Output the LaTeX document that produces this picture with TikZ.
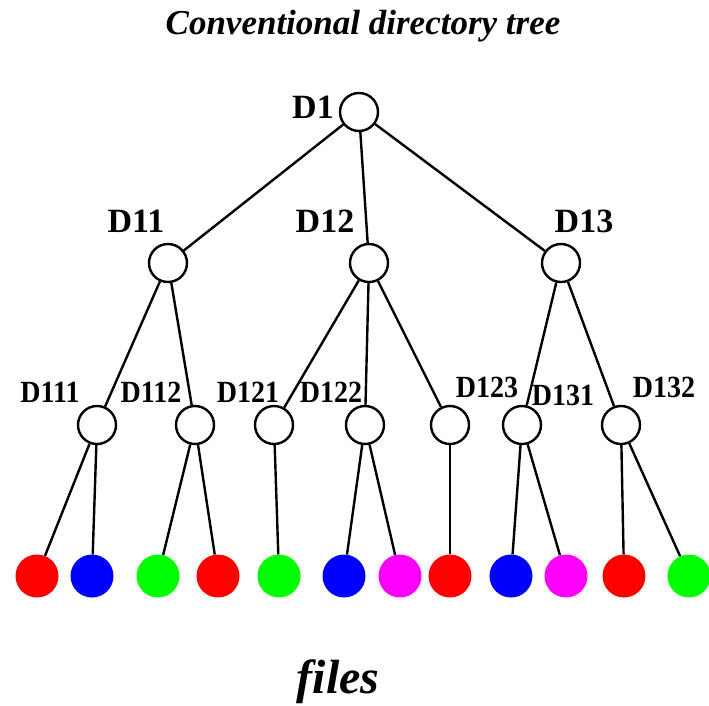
\documentclass[tikz,border=0pt]{standalone}
\usepackage{fontspec}
\setmainfont{Liberation Serif}
\definecolor{fred}{RGB}{255,0,0}
\definecolor{fblue}{RGB}{0,0,255}
\definecolor{fgreen}{RGB}{0,255,0}
\definecolor{fmagenta}{RGB}{255,0,255}
\begin{document}
\begin{tikzpicture}[x=1pt,y=-1pt,
  dir/.style={circle,draw=black,line width=2.4pt,fill=white,minimum size=38pt,inner sep=0pt},
  file/.style={circle,minimum size=43pt,inner sep=0pt},
  lbl/.style={font=\fontsize{34}{36}\selectfont\bfseries,inner sep=0pt},
  slbl/.style={font=\fontsize{28}{30}\selectfont\bfseries,inner sep=0pt,yscale=1.1},
  link/.style={line width=2.4pt}]
\useasboundingbox (0,0) rectangle (709,705);
% title
\node[font=\fontsize{35}{40}\selectfont\bfseries\itshape,inner sep=0pt] (title) at (363,26) {Conventional directory tree};
% directories
\node[dir] (D1) at (359,112) {};
\node[dir] (D11) at (168,263) {};
\node[dir] (D12) at (369,263) {};
\node[dir] (D13) at (561,263) {};
\node[dir] (D111) at (97,425) {};
\node[dir] (D112) at (195,425) {};
\node[dir] (D121) at (274,425) {};
\node[dir] (D122) at (365,425) {};
\node[dir] (D123) at (450,425) {};
\node[dir] (D131) at (522,425) {};
\node[dir] (D132) at (621,425) {};
% files
\node[file,fill=fred] (f1) at (37,576) {};
\node[file,fill=fblue] (f2) at (92,576) {};
\node[file,fill=fgreen] (f3) at (158,576) {};
\node[file,fill=fred] (f4) at (218,576) {};
\node[file,fill=fgreen] (f5) at (279,576) {};
\node[file,fill=fblue] (f6) at (344,576) {};
\node[file,fill=fmagenta] (f7) at (400,576) {};
\node[file,fill=fred] (f8) at (450,576) {};
\node[file,fill=fblue] (f9) at (511,576) {};
\node[file,fill=fmagenta] (f10) at (566,576) {};
\node[file,fill=fred] (f11) at (624,576) {};
\node[file,fill=fgreen] (f12) at (689,576) {};
% links
\draw[link] (D1) -- (D11);
\draw[link] (D1) -- (D12);
\draw[link] (D1) -- (D13);
\draw[link] (D11) -- (D111);
\draw[link] (D11) -- (D112);
\draw[link] (D12) -- (D121);
\draw[link] (D12) -- (D122);
\draw[link] (D12) -- (D123);
\draw[link] (D13) -- (D131);
\draw[link] (D13) -- (D132);
\draw[link] (D111) -- (f1);
\draw[link] (D111) -- (f2);
\draw[link] (D112) -- (f3);
\draw[link] (D112) -- (f4);
\draw[link] (D121) -- (f5);
\draw[link] (D122) -- (f6);
\draw[link] (D122) -- (f7);
\draw[link] (D123) -- (f8);
\draw[link] (D131) -- (f9);
\draw[link] (D131) -- (f10);
\draw[link] (D132) -- (f11);
\draw[link] (D132) -- (f12);
% labels
\node[lbl] (lD1) at (313,107) {D1};
\node[lbl] (lD11) at (136,221) {D11};
\node[lbl] (lD12) at (325,221) {D12};
\node[lbl] (lD13) at (584,221) {D13};
\node[slbl] (lD111) at (50,392) {D111};
\node[slbl] (lD112) at (151,392) {D112};
\node[slbl] (lD121) at (248,392) {D121};
\node[slbl] (lD122) at (331,392) {D122};
\node[slbl] (lD123) at (487,387) {D123};
\node[slbl] (lD131) at (563,395) {D131};
\node[slbl] (lD132) at (664,387) {D132};
\node[font=\fontsize{48}{52}\selectfont\bfseries\itshape,inner sep=0pt] (files) at (338,682) {files};
\end{tikzpicture}
\end{document}
